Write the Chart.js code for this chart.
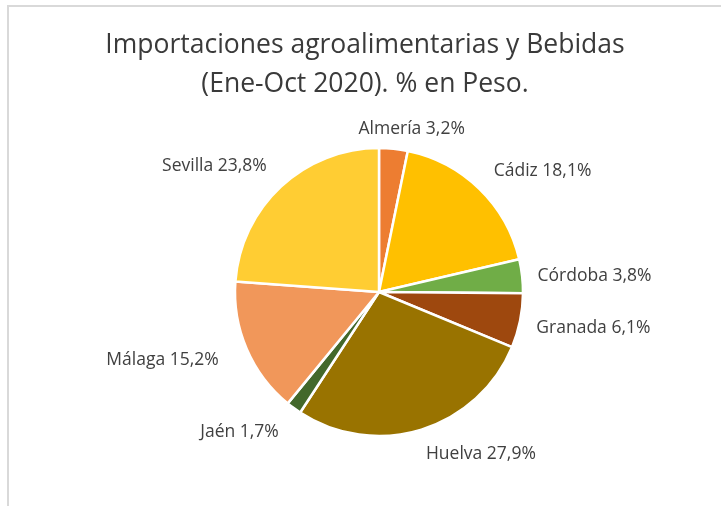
<!DOCTYPE html>
<html>
<head>
<meta charset="utf-8">
<script src="https://cdn.jsdelivr.net/npm/chart.js@4.4.1/dist/chart.umd.min.js"></script>
<style>
  html, body { margin:0; padding:0; background:#fff; width:721px; height:506px; overflow:hidden; }
  #frame { position:absolute; left:7px; top:5px; width:800px; height:600px;
           border-left:2px solid #d9d9d9; border-top:2px solid #d9d9d9; }
  #title { position:absolute; left:0; width:730px; top:24px; text-align:center;
           font-family:"Open Sans", sans-serif; font-size:26.5px; line-height:39px; color:#3a3a3a; }
  #wrap { position:absolute; left:0; top:0; width:721px; height:506px; }
</style>
</head>
<body>
<div id="frame"></div>
<div id="wrap"><canvas id="c" width="721" height="506"></canvas></div>
<div id="title">Importaciones agroalimentarias y Bebidas<br>(Ene-Oct 2020). % en Peso.</div>
<script>
const titleLines = ["Importaciones agroalimentarias y Bebidas", "(Ene-Oct 2020). % en Peso."];
const categories = ["Almería", "Cádiz", "Córdoba", "Granada", "Huelva", "Jaén", "Málaga", "Sevilla"];
const values = [3.2, 18.1, 3.8, 6.1, 27.9, 1.7, 15.2, 23.8];
const valueLabels = ["3,2%", "18,1%", "3,8%", "6,1%", "27,9%", "1,7%", "15,2%", "23,8%"];
const colors = ["#ED7D31", "#FFC000", "#70AD47", "#9E480E", "#997300", "#43682B", "#F1975A", "#FFCD33"];
// label nudges (layout only)
const labelNudge = [[17,0],[6,-3.6],[3.5,2.5],[4.5,3],[1,5],[-8,7.5],[-17,3],[-6,-5.6]];

const labelPlugin = {
  id: 'outsideLabels',
  afterDatasetsDraw(chart) {
    const ctx = chart.ctx;
    const meta = chart.getDatasetMeta(0);
    ctx.save();
    ctx.font = '17.5px "Open Sans", sans-serif';
    ctx.fillStyle = '#404040';
    ctx.textBaseline = 'middle';
    meta.data.forEach((arc, i) => {
      const p = arc.getProps(['x','y','startAngle','endAngle','outerRadius'], true);
      const mid = (p.startAngle + p.endAngle) / 2;
      const r = p.outerRadius + 12;
      const c = Math.cos(mid), s = Math.sin(mid);
      let x = p.x + c * r;
      let y = p.y + s * r + s * 8;
      let align = 'center';
      if (c > 0.25) align = 'left'; else if (c < -0.25) align = 'right';
      ctx.textAlign = align;
      const n = labelNudge[i];
      ctx.fillText(categories[i] + ' ' + valueLabels[i], x + n[0], y + n[1]);
    });
    ctx.restore();
  }
};

new Chart(document.getElementById('c'), {
  type: 'pie',
  data: {
    labels: categories,
    datasets: [{
      data: values,
      backgroundColor: colors,
      borderColor: '#ffffff',
      borderWidth: 2.5
    }]
  },
  options: {
    responsive: false,
    animation: false,
    radius: 144,
    layout: { padding: { left: 37, right: 0, top: 148, bottom: 70 } },
    plugins: {
      legend: { display: false },
      tooltip: { enabled: false },
      title: { display: false }
    }
  },
  plugins: [labelPlugin]
});
</script>
</body>
</html>
